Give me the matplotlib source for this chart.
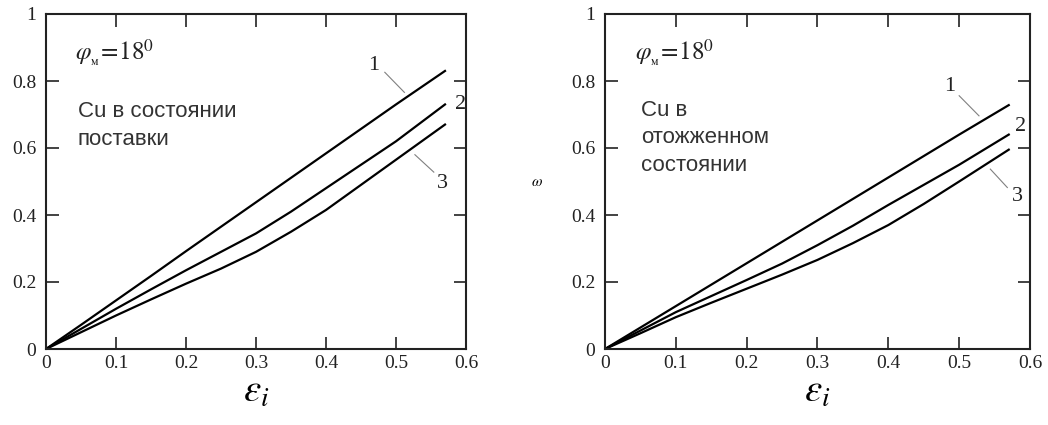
import numpy as np
import matplotlib
matplotlib.use('Agg')
import matplotlib.pyplot as plt

plt.rcParams['mathtext.fontset'] = 'stix'

# curves: eps_i -> omega
eps = [0.0, 0.05, 0.1, 0.15, 0.2, 0.25, 0.3, 0.35, 0.4, 0.45, 0.5, 0.57]

left_1 = [0.0, 0.072, 0.145, 0.218, 0.292, 0.365, 0.438, 0.511, 0.584, 0.657, 0.73, 0.83]
left_2 = [0.0, 0.06, 0.12, 0.178, 0.235, 0.29, 0.345, 0.41, 0.48, 0.55, 0.62, 0.73]
left_3 = [0.0, 0.05, 0.1, 0.148, 0.195, 0.24, 0.29, 0.35, 0.415, 0.49, 0.565, 0.67]

right_1 = [0.0, 0.064, 0.128, 0.192, 0.256, 0.32, 0.384, 0.448, 0.512, 0.576, 0.64, 0.728]
right_2 = [0.0, 0.055, 0.11, 0.158, 0.206, 0.255, 0.31, 0.368, 0.43, 0.49, 0.55, 0.64]
right_3 = [0.0, 0.047, 0.095, 0.138, 0.18, 0.222, 0.266, 0.316, 0.37, 0.433, 0.5, 0.595]

x_ticks = [0, 0.1, 0.2, 0.3, 0.4, 0.5, 0.6]
x_labels = ['0', '0.1', '0.2', '0.3', '0.4', '0.5', '0.6']
y_ticks = [0, 0.2, 0.4, 0.6, 0.8, 1.0]
y_labels = ['0', '0.2', '0.4', '0.6', '0.8', '1']

W, H = 1048, 425
fig = plt.figure(figsize=(W / 100, H / 100), dpi=100)
ax_l = fig.add_axes([46 / W, 76 / H, 420 / W, 335 / H])
ax_r = fig.add_axes([605 / W, 76 / H, 425 / W, 335 / H])

SERIF = 'Liberation Serif'


def style_axes(ax):
    ax.set_xlim(0, 0.6)
    ax.set_ylim(0, 1)
    ax.set_xticks(x_ticks)
    ax.set_xticklabels(x_labels)
    ax.set_yticks(y_ticks)
    ax.set_yticklabels(y_labels)
    ax.tick_params(direction='in', length=9, width=1.2, top=True, right=True,
                   labelsize=14, color='#222222', labelcolor='#222222')
    ax.tick_params(axis='x', pad=4)
    ax.tick_params(axis='y', pad=7)
    for lab in ax.get_xticklabels() + ax.get_yticklabels():
        lab.set_fontfamily(SERIF)
    for s in ax.spines.values():
        s.set_linewidth(1.5)
        s.set_color('#222222')
    ax.set_xlabel(r'$\varepsilon_i$', fontsize=28, labelpad=0)


for ax, curves in ((ax_l, (left_1, left_2, left_3)), (ax_r, (right_1, right_2, right_3))):
    for c in curves:
        ax.plot(eps, c, color='black', lw=1.6)
    style_axes(ax)

num = dict(fontsize=16, family=SERIF, ha='center', va='center', color='#222222')
lead = dict(color='gray', lw=0.8)

# curve numbers with leader lines
ax_l.text(0.468, 0.845, '1', **num)
ax_l.plot([0.484, 0.512], [0.826, 0.766], **lead)
ax_l.text(0.592, 0.73, '2', **num)
ax_l.plot([0.527, 0.554], [0.58, 0.528], **lead)
ax_l.text(0.567, 0.495, '3', **num)

ax_r.text(0.486, 0.783, '1', **num)
ax_r.plot([0.5, 0.528], [0.756, 0.696], **lead)
ax_r.text(0.586, 0.665, '2', **num)
ax_r.plot([0.544, 0.568], [0.537, 0.482], **lead)
ax_r.text(0.582, 0.455, '3', **num)

# annotations
for ax in (ax_l, ax_r):
    ax.text(0.042, 0.883, r'$\varphi_{_{\rm м}}\!=\!18^0$', fontsize=18,
            va='center', color='#222222')
ax_l.text(0.045, 0.668, 'Cu в состоянии\nпоставки', fontsize=16,
          family='Liberation Sans', color='#333333', va='center', linespacing=1.45)
ax_r.text(0.051, 0.63, 'Cu в\nотожженном\nсостоянии', fontsize=16,
          family='Liberation Sans', color='#333333', va='center', linespacing=1.4)

fig.text(537 / W, 1 - 181 / H, r'$\omega$', fontsize=11, ha='center', va='center')

fig.savefig('out.png', dpi=100)
